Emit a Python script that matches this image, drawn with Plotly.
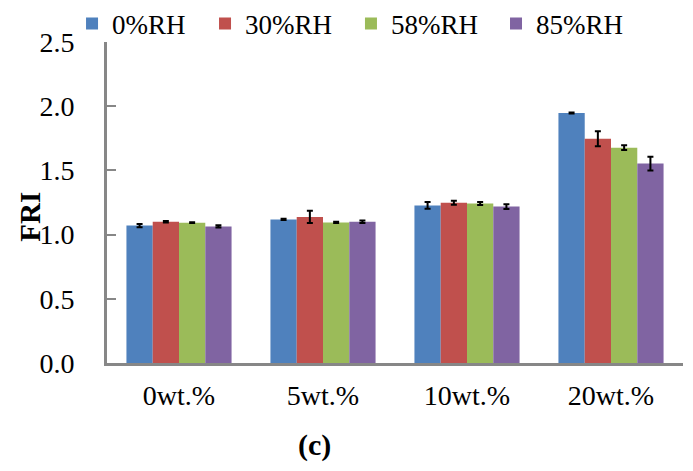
import plotly.graph_objects as go

categories = ["0wt.%", "5wt.%", "10wt.%", "20wt.%"]
series_names = ["0%RH", "30%RH", "58%RH", "85%RH"]
values = {
    "0%RH": [1.07, 1.118, 1.227, 1.947],
    "30%RH": [1.10, 1.138, 1.248, 1.747],
    "58%RH": [1.093, 1.095, 1.242, 1.677],
    "85%RH": [1.064, 1.100, 1.218, 1.553],
}
errors = {
    "0%RH": [0.012, 0.005, 0.026, 0.004],
    "30%RH": [0.005, 0.047, 0.015, 0.058],
    "58%RH": [0.003, 0.005, 0.012, 0.018],
    "85%RH": [0.008, 0.01, 0.018, 0.053],
}
colors = ["#4F81BD", "#C0504D", "#9BBB59", "#8064A2"]
y_ticks = [0.0, 0.5, 1.0, 1.5, 2.0, 2.5]
y_ticklabels = ["0.0", "0.5", "1.0", "1.5", "2.0", "2.5"]

font_family = "Liberation Serif"
legend_ids = ["legend", "legend2", "legend3", "legend4"]
legend_x = [0.0924, 0.2843, 0.4949, 0.7042]

fig = go.Figure()
for name, col, lid in zip(series_names, colors, legend_ids):
    fig.add_trace(go.Bar(
        x=categories, y=values[name], name=name, legend=lid,
        marker=dict(color=col, line=dict(width=0)),
        error_y=dict(type="data", array=errors[name], color="black", thickness=2, width=3),
    ))

legend_style = {}
for lid, lx in zip(legend_ids, legend_x):
    legend_style[lid] = dict(
        orientation="h", xref="container", yref="container",
        x=lx, y=0.966, xanchor="left", yanchor="middle",
        font=dict(family=font_family, size=27, color="black"),
        itemwidth=30, bgcolor="rgba(0,0,0,0)",
    )

fig.update_layout(
    width=693, height=471,
    margin=dict(l=99, r=18, t=34, b=116, autoexpand=False),
    paper_bgcolor="white", plot_bgcolor="white",
    barmode="group", bargap=0.27, bargroupgap=0,
    font=dict(family=font_family, size=27, color="black"),
    showlegend=True,
    annotations=[dict(
        text="<b>(c)</b>", xref="paper", yref="paper", x=0.361, y=-0.255,
        xanchor="center", yanchor="middle", showarrow=False,
        font=dict(family=font_family, size=30, color="black"),
    ), dict(
        text="<b>FRI</b>", xref="paper", yref="paper", x=-0.134, y=0.455,
        xanchor="center", yanchor="middle", showarrow=False, textangle=-90,
        font=dict(family=font_family, size=29, color="black"),
    )],
    **legend_style,
)
fig.update_yaxes(
    range=[0, 2.5], tickvals=y_ticks, ticktext=y_ticklabels,
    showline=True, linecolor="#878787", linewidth=3,
    ticks="inside", ticklen=9, tickwidth=2, tickcolor="#878787",
    showgrid=False, zeroline=False, automargin=False,
    ticklabelstandoff=24,
    tickfont=dict(family=font_family, size=28, color="black"),
)
fig.update_xaxes(
    showline=True, linecolor="#878787", linewidth=3,
    ticks="", showgrid=False, zeroline=False, automargin=False,
    ticklabelstandoff=5,
    tickfont=dict(family=font_family, size=28, color="black"),
)
fig.write_html("out.html")
